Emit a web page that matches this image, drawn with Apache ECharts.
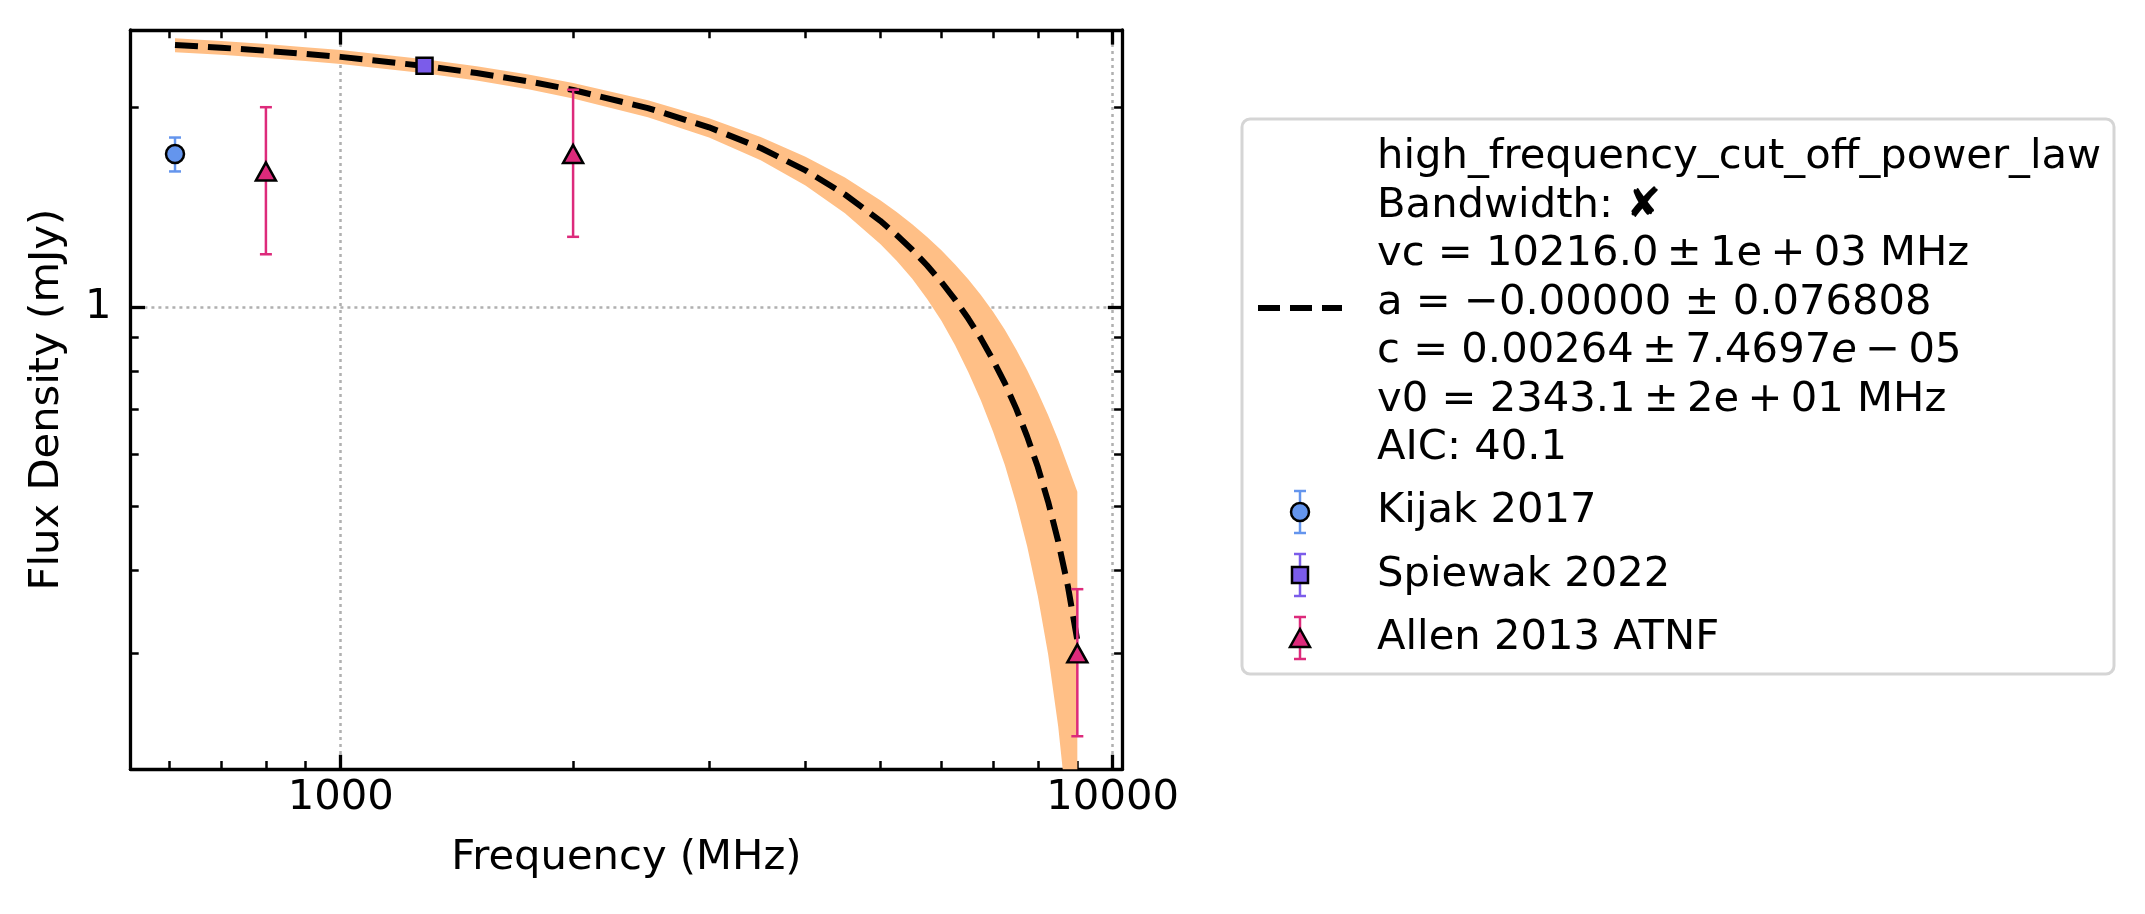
<!DOCTYPE html>
<html>

<head>
    <meta charset="UTF-8">
    <script type="text/javascript" src="https://cdn.jsdelivr.net/npm/echarts/dist/echarts.min.js"></script>
    <title>high_frequency_cut_off_power_law</title>
    <style>
        html, body { margin: 0; padding: 0; background: #fff; }
        #chart { width: 2145px; height: 914px; }
    </style>
</head>

<body>
    <div id="chart"></div>
    <script type="text/javascript">
    // fit curve (MHz, mJy), with its orange band
    var fitFreq  = [610, 700, 800, 900, 1000, 1284, 1500, 1750, 2000, 2500, 3000, 3500, 4000, 4500, 5000, 5250,
                    5500, 5750, 6000, 6250, 6500, 6750, 7000, 7250, 7500, 7750, 8000, 8250, 8500, 8750, 9000];
    var fitFlux  = [2.482, 2.459, 2.433, 2.407, 2.382, 2.308, 2.252, 2.188, 2.123, 1.994, 1.865, 1.736, 1.606, 1.477, 1.348, 1.283,
                    1.219, 1.154, 1.090, 1.025, 0.960, 0.896, 0.831, 0.767, 0.702, 0.637, 0.573, 0.508, 0.443, 0.379, 0.314];
    var fitUpper = [2.542, 2.517, 2.490, 2.464, 2.439, 2.363, 2.306, 2.241, 2.175, 2.049, 1.925, 1.804, 1.684, 1.567, 1.448, 1.390,
                    1.332, 1.274, 1.217, 1.158, 1.100, 1.042, 0.983, 0.923, 0.862, 0.802, 0.743, 0.686, 0.630, 0.575, 0.526];
    var fitLower = [2.420, 2.399, 2.373, 2.348, 2.323, 2.250, 2.194, 2.129, 2.062, 1.932, 1.800, 1.664, 1.524, 1.384, 1.244, 1.173,
                    1.102, 1.027, 0.953, 0.875, 0.797, 0.722, 0.648, 0.577, 0.505, 0.435, 0.366, 0.299, 0.233, 0.169, 0.104];

    // measurements
    var kijakFreq = [610];
    var kijakFlux = [1.70];
    var kijakErr  = [0.10];
    var spiewakFreq = [1284];
    var spiewakFlux = [2.31];
    var spiewakErr  = [0.03];
    var allenFreq = [800, 2000, 9000];
    var allenFlux = [1.60, 1.70, 0.30];
    var allenErr  = [0.40, 0.425, 0.075];

    // ticks
    var xMajorTicks = [1000, 10000];
    var xMinorTicks = [600, 700, 800, 900, 2000, 3000, 4000, 5000, 6000, 7000, 8000, 9000];
    var yMajorTicks = [1];
    var yMinorTicks = [0.3, 0.4, 0.5, 0.6, 0.7, 0.8, 0.9, 2];

    var fitLabel = [
        'high_frequency_cut_off_power_law',
        'Bandwidth: \u2718',
        'vc = 10216.0\u2009\u00b1\u20091e\u2009+\u200903 MHz',
        'a = \u22120.00000 \u00b1 0.076808',
        'c = 0.00264\u2009\u00b1\u20097.4697{i|e}\u2009\u2212\u200905',
        'v0 = 2343.1\u2009\u00b1\u20092e\u2009+\u200901 MHz',
        'AIC: 40.1'
    ];
    var dataLabels = ['Kijak 2017', 'Spiewak 2022', 'Allen 2013 ATNF'];

    var FONT = 'DejaVu Sans';
    var FS = 41.7;
    var kijakColor = '#6495ed';
    var spiewakColor = '#7b5cea';
    var allenColor = '#dd2a7b';

    function pairs(xs, ys) {
        return xs.map(function (x, i) { return [x, ys[i]]; });
    }
    function triples(xs, ys, es) {
        return xs.map(function (x, i) { return [x, ys[i], es[i]]; });
    }
    function fmtTick(v) {
        return String(Math.round(v));
    }

    function errorBars(color) {
        return function (params, api) {
            var x = api.value(0), y = api.value(1), e = api.value(2);
            var top = api.coord([x, y + e]);
            var bot = api.coord([x, y - e]);
            var st = { stroke: color, lineWidth: 2.5 };
            return {
                type: 'group',
                children: [
                    { type: 'line', shape: { x1: top[0], y1: top[1], x2: bot[0], y2: bot[1] }, style: st },
                    { type: 'line', shape: { x1: top[0] - 6, y1: top[1], x2: top[0] + 6, y2: top[1] }, style: st },
                    { type: 'line', shape: { x1: bot[0] - 6, y1: bot[1], x2: bot[0] + 6, y2: bot[1] }, style: st }
                ]
            };
        };
    }

    function logAxis(pos, min, max, ticks, major, extra) {
        var ax = {
            type: 'log',
            logBase: 10,
            min: min,
            max: max,
            position: pos,
            axisLine: { show: major, onZero: false, lineStyle: { color: '#000', width: 3.3 } },
            axisTick: {
                show: true, inside: true, length: major ? 14.6 : 8.3, customValues: ticks,
                lineStyle: { color: '#000', width: major ? 3.3 : 2.5 }
            },
            axisLabel: { show: false },
            splitLine: { show: false },
            minorTick: { show: false },
            minorSplitLine: { show: false }
        };
        for (var k in extra) ax[k] = extra[k];
        return ax;
    }

    var xMin = 534, xMax = 10295;
    var yMin = 0.2006, yMax = 2.615;
    var gridDots = { show: true, lineStyle: { color: '#b0b0b0', width: 2.5, type: [3, 4] } };

    var xAxes = [
        logAxis('bottom', xMin, xMax, xMajorTicks, true, {
            name: 'Frequency (MHz)',
            nameLocation: 'middle',
            nameGap: 68,
            nameTextStyle: { fontFamily: FONT, fontSize: FS, color: '#000' },
            axisLabel: { show: true, customValues: xMajorTicks, margin: 8, formatter: fmtTick,
                fontFamily: FONT, fontSize: FS, color: '#000' },
            splitLine: gridDots
        }),
        logAxis('bottom', xMin, xMax, xMinorTicks, false),
        logAxis('top', xMin, xMax, xMajorTicks, true),
        logAxis('top', xMin, xMax, xMinorTicks, false)
    ];
    var yAxes = [
        logAxis('left', yMin, yMax, yMajorTicks, true, {
            name: 'Flux Density (mJy)',
            nameLocation: 'middle',
            nameGap: 62,
            nameTextStyle: { fontFamily: FONT, fontSize: FS, color: '#000' },
            axisLabel: { show: true, customValues: yMajorTicks, margin: 19, formatter: fmtTick,
                fontFamily: FONT, fontSize: FS, color: '#000' },
            splitLine: gridDots
        }),
        logAxis('left', yMin, yMax, yMinorTicks, false),
        logAxis('right', yMin, yMax, yMajorTicks, true),
        logAxis('right', yMin, yMax, yMinorTicks, false)
    ];

    // legend box drawn by hand, matplotlib style
    var graphics = [{
        type: 'rect', z: 100,
        shape: { x: 1242, y: 119, width: 872, height: 555, r: 8 },
        style: { fill: '#fff', stroke: '#d5d5d5', lineWidth: 3 }
    }, {
        type: 'line', z: 101,
        shape: { x1: 1258, y1: 308, x2: 1342, y2: 308 },
        style: { stroke: '#000', lineWidth: 6, lineDash: [22, 10] }
    }];
    fitLabel.forEach(function (t, i) {
        graphics.push({
            type: 'text', z: 101, x: 1377, y: 172 + 48.5 * i - 14.4,
            style: {
                text: t, fontFamily: FONT, fontSize: FS, fill: '#000', verticalAlign: 'middle',
                rich: { i: { fontFamily: FONT, fontSize: FS, fontStyle: 'italic', fill: '#000' } }
            }
        });
    });
    var handleY = [512, 575, 638];
    var handleColor = [kijakColor, spiewakColor, allenColor];
    dataLabels.forEach(function (t, i) {
        var cy = handleY[i], c = handleColor[i];
        var st = { stroke: c, lineWidth: 2.5 };
        graphics.push({ type: 'line', z: 101, shape: { x1: 1300, y1: cy - 21, x2: 1300, y2: cy + 21 }, style: st });
        graphics.push({ type: 'line', z: 101, shape: { x1: 1294, y1: cy - 21, x2: 1306, y2: cy - 21 }, style: st });
        graphics.push({ type: 'line', z: 101, shape: { x1: 1294, y1: cy + 21, x2: 1306, y2: cy + 21 }, style: st });
        var mark = { fill: c, stroke: '#000', lineWidth: 2.5 };
        if (i === 0) {
            graphics.push({ type: 'circle', z: 102, shape: { cx: 1300, cy: cy, r: 9 }, style: mark });
        } else if (i === 1) {
            graphics.push({ type: 'rect', z: 102, shape: { x: 1292, y: cy - 8, width: 16, height: 16 }, style: mark });
        } else {
            graphics.push({ type: 'polygon', z: 102, shape: { points: [[1300, cy - 9], [1310, cy + 9], [1290, cy + 9]] }, style: mark });
        }
        graphics.push({
            type: 'text', z: 101, x: 1377, y: [526, 589.5, 653][i] - 14.4,
            style: { text: t, fontFamily: FONT, fontSize: FS, fill: '#000', verticalAlign: 'middle' }
        });
    });

    var chart = echarts.init(document.getElementById('chart'), null, { renderer: 'canvas' });
    var option = {
        backgroundColor: '#fff',
        animation: false,
        textStyle: { fontFamily: FONT },
        grid: { left: 130.4, right: 1022.6, top: 30, bottom: 144.7, outerBoundsMode: 'none' },
        xAxis: xAxes,
        yAxis: yAxes,
        graphic: graphics,
        series: [{
            // uncertainty band
            type: 'custom',
            xAxisIndex: 0, yAxisIndex: 0,
            clip: true,
            z: 1,
            data: [[fitFreq[0], fitFlux[0]]],
            encode: { x: 0, y: 1 },
            renderItem: function (params, api) {
                var pts = [];
                for (var i = 0; i < fitFreq.length; i++) pts.push(api.coord([fitFreq[i], fitUpper[i]]));
                for (var j = fitFreq.length - 1; j >= 0; j--) pts.push(api.coord([fitFreq[j], fitLower[j]]));
                return { type: 'polygon', shape: { points: pts }, style: { fill: '#ffbf86' } };
            }
        }, {
            type: 'line',
            z: 2,
            data: pairs(fitFreq, fitFlux),
            showSymbol: false,
            lineStyle: { color: '#000', width: 6, type: [23, 10] }
        }, {
            type: 'custom', z: 3, encode: { x: 0, y: 1 },
            data: triples(kijakFreq, kijakFlux, kijakErr), renderItem: errorBars(kijakColor)
        }, {
            type: 'custom', z: 3, encode: { x: 0, y: 1 },
            data: triples(spiewakFreq, spiewakFlux, spiewakErr), renderItem: errorBars(spiewakColor)
        }, {
            type: 'custom', z: 3, encode: { x: 0, y: 1 },
            data: triples(allenFreq, allenFlux, allenErr), renderItem: errorBars(allenColor)
        }, {
            type: 'scatter', z: 4, symbol: 'circle', symbolSize: 18,
            itemStyle: { color: kijakColor, borderColor: '#000', borderWidth: 2.5, opacity: 1 },
            data: pairs(kijakFreq, kijakFlux)
        }, {
            type: 'scatter', z: 4, symbol: 'rect', symbolSize: 16,
            itemStyle: { color: spiewakColor, borderColor: '#000', borderWidth: 2.5, opacity: 1 },
            data: pairs(spiewakFreq, spiewakFlux)
        }, {
            type: 'scatter', z: 4, symbol: 'triangle', symbolSize: [20, 18],
            itemStyle: { color: allenColor, borderColor: '#000', borderWidth: 2.5, opacity: 1 },
            data: pairs(allenFreq, allenFlux)
        }]
    };
    chart.setOption(option);
    </script>
</body>

</html>
